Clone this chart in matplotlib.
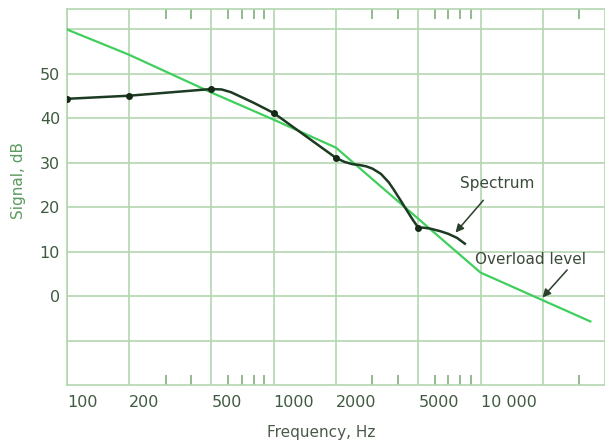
import matplotlib.pyplot as plt
from matplotlib.ticker import FixedLocator, NullFormatter

# overload level (green)
over_freq = [100, 200, 500, 1000, 2000, 10000, 34000]
over_db = [60, 54.3, 45.8, 39.7, 33.4, 5.3, -5.7]

# spectrum curve (dark)
spec_freq = [100, 200, 500, 560, 620, 690, 800, 1000, 2000, 2200, 2400, 2600,
             2800, 3000, 3300, 3600, 3800, 4100, 4400, 4700, 5000, 5300, 5700,
             6400, 7000, 7700, 8400]
spec_db = [44.4, 45.1, 46.6, 46.5, 45.9, 44.9, 43.5, 41.2, 31.1, 30.2, 29.7,
           29.5, 29.2, 28.7, 27.5, 25.6, 24.0, 21.6, 19.3, 17.2, 15.4, 15.4,
           15.2, 14.6, 14.0, 13.1, 11.8]

# measured points
dot_freq = [100, 200, 500, 1000, 2000, 5000]
dot_db = [44.4, 45.1, 46.6, 41.2, 31.1, 15.4]

x_major = [100, 200, 500, 1000, 2000, 5000, 10000, 20000]
x_labels = ["100", "200", "500", "1000", "2000", "5000", "10 000", ""]
x_minor = [300, 400, 600, 700, 800, 900, 3000, 4000, 6000, 7000, 8000, 9000,
           30000]
y_major = [-10, 0, 10, 20, 30, 40, 50, 60]
y_labels = ["", "0", "10", "20", "30", "40", "50", ""]

grid_c = "#b3d6b0"
text_c = "#3f5a40"

fig = plt.figure(figsize=(6.05, 4.45), dpi=100)
ax = fig.add_axes([0.1107, 0.1348, 0.8893, 0.8439])

ax.set_xscale("log")
ax.set_xlim(100, 40000)
ax.set_ylim(-20, 64.5)

ax.xaxis.set_major_locator(FixedLocator(x_major))
ax.set_xticklabels(x_labels)
ax.xaxis.set_minor_locator(FixedLocator(x_minor))
ax.xaxis.set_minor_formatter(NullFormatter())
ax.set_yticks(y_major)
ax.set_yticklabels(y_labels)

ax.grid(True, which="major", color=grid_c, linewidth=1.2)
for s in ax.spines.values():
    s.set_color(grid_c)
    s.set_linewidth(1.2)

ax.tick_params(axis="x", which="major", length=0, pad=7, labelsize=11.5,
               labelcolor=text_c)
ax.tick_params(axis="x", which="minor", direction="in", top=True, bottom=True,
               length=7, width=1.2, color="#7fae7c")
ax.tick_params(axis="y", which="major", length=0, pad=5, labelsize=11.5,
               labelcolor=text_c)
for lab in ax.get_xticklabels():
    lab.set_horizontalalignment("left")

ax.plot(over_freq, over_db, color="#3fcf5c", linewidth=1.6, zorder=3)
ax.plot(spec_freq, spec_db, color="#1d3b22", linewidth=1.8, zorder=4)
ax.plot(dot_freq, dot_db, "o", color="#142a17", markersize=4, zorder=5)

ax.annotate("Spectrum", xy=(7570, 14.3), xytext=(12100, 25.3),
            ha="center", va="center", fontsize=11, color="#3a4a3a",
            arrowprops=dict(arrowstyle="-|>", color="#2a3f2c", lw=1.1,
                            shrinkA=6, shrinkB=0, mutation_scale=12))
ax.annotate("Overload level", xy=(19950, -0.3), xytext=(17500, 8.2),
            ha="center", va="center", fontsize=11, color="#3a4a3a",
            arrowprops=dict(arrowstyle="-|>", color="#2a3f2c", lw=1.1,
                            shrinkA=0, shrinkB=0, mutation_scale=12,
                            relpos=(0.85, 0.0)))

fig.text(0.531, 0.027, "Frequency, Hz", ha="center", va="center",
         fontsize=11, color="#4a5a4a")
fig.text(0.030, 0.595, "Signal, dB", ha="center", va="center",
         rotation=90, fontsize=11, color="#5c9a5e")

fig.savefig("out.png", dpi=100)
